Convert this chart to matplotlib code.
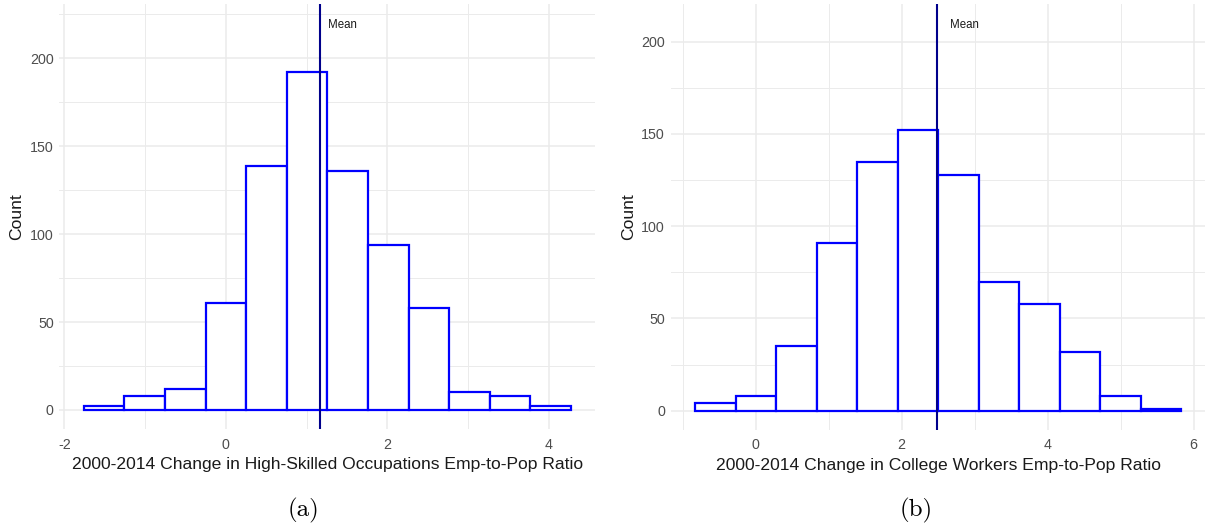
import matplotlib
matplotlib.use("Agg")
import matplotlib.pyplot as plt
import numpy as np

plt.rcParams["font.family"] = ["Liberation Sans", "DejaVu Sans"]
plt.rcParams["axes.unicode_minus"] = False

# Panel (a): high-skilled occupations
edges_a = [-1.76, -1.257, -0.754, -0.251, 0.252, 0.755, 1.258, 1.761, 2.264, 2.767, 3.27, 3.773, 4.276]
counts_a = [2, 8, 12, 61, 139, 192, 136, 94, 58, 10, 8, 2]
mean_a = 1.17
xlabel_a = "2000-2014 Change in High-Skilled Occupations Emp-to-Pop Ratio"
xticks_a = [-2, 0, 2, 4]
xminor_a = [-1, 1, 3]

# Panel (b): college workers
edges_b = [-0.83, -0.27, 0.28, 0.84, 1.39, 1.95, 2.50, 3.06, 3.61, 4.17, 4.72, 5.28, 5.83]
counts_b = [4, 8, 35, 91, 135, 152, 128, 70, 58, 32, 8, 1]
mean_b = 2.49
xlabel_b = "2000-2014 Change in College Workers Emp-to-Pop Ratio"
xticks_b = [0, 2, 4, 6]
xminor_b = [-1, 1, 3, 5]

yticks = [0, 50, 100, 150, 200]
yminor = [25, 75, 125, 175, 225]

BAR_EDGE = "#0000FF"
MEAN_COLOR = "#00008B"
GRID = "#EBEBEB"
TICK_COLOR = "#4D4D4D"

fig = plt.figure(figsize=(12.05, 5.30), dpi=100)


def draw_panel(rect, edges, counts, mean, mean_label_xy, xlabel, xticks, xminor, ylim, caption, caption_x):
    ax = fig.add_axes(rect)
    edges = np.asarray(edges, dtype=float)
    lefts = edges[:-1]
    widths = np.diff(edges)
    ax.bar(lefts, counts, width=widths, align="edge", facecolor="white",
           edgecolor=BAR_EDGE, linewidth=1.6, zorder=2)
    ax.axvline(mean, color=MEAN_COLOR, linewidth=1.5, zorder=3)
    ax.text(mean_label_xy[0], mean_label_xy[1], "Mean", fontsize=8.3,
            ha="left", va="center", color="#1a1a1a", zorder=4)

    ax.set_xticks(xticks)
    ax.set_xticks(xminor, minor=True)
    ax.set_yticks(yticks)
    ax.set_yticks(yminor, minor=True)

    # limits after the ticks so the minor ticks do not widen the view
    span = edges[-1] - edges[0]
    ax.set_xlim(edges[0] - 0.05 * span, edges[-1] + 0.05 * span)
    ax.set_ylim(*ylim)

    ax.grid(which="major", color=GRID, linewidth=1.1, zorder=0)
    ax.grid(which="minor", color=GRID, linewidth=0.7, zorder=0)
    ax.set_axisbelow(True)
    for s in ax.spines.values():
        s.set_visible(False)
    ax.tick_params(which="both", length=0)
    ax.tick_params(axis="x", pad=6, labelsize=10.3, labelcolor=TICK_COLOR)
    ax.tick_params(axis="y", pad=4, labelsize=10.3, labelcolor=TICK_COLOR)

    ax.set_xlabel(xlabel, fontsize=12.6, color="#1a1a1a", labelpad=4)
    ax.set_ylabel("Count", fontsize=12.6, color="#1a1a1a", labelpad=4)

    fig.text(caption_x, 1 - 510 / 530, caption, fontsize=18, family="cmr10",
             ha="center", va="center")
    return ax


draw_panel([59.3 / 1205, 1 - 429.3 / 530, (595.4 - 59.3) / 1205, (429.3 - 3.9) / 530],
           edges_a, counts_a, mean_a, (1.27, 219), xlabel_a, xticks_a, xminor_a,
           (-11, 231), "(a)", 304 / 1205)

draw_panel([670.6 / 1205, 1 - 430.1 / 530, (1205.5 - 670.6) / 1205, (430.1 - 3.9) / 530],
           edges_b, counts_b, mean_b, (2.67, 209), xlabel_b, xticks_b, xminor_b,
           (-10.5, 220.5), "(b)", 916 / 1205)

fig.savefig("out.png", dpi=100)
